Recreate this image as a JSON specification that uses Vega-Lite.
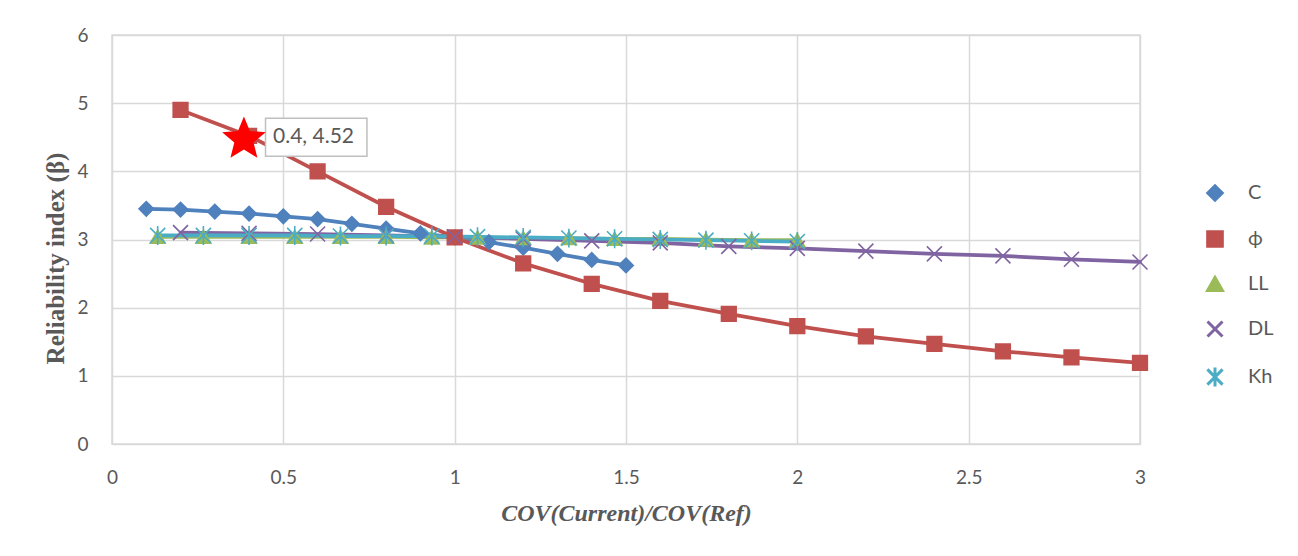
{
  "$schema": "https://vega.github.io/schema/vega-lite/v6.json",
  "autosize": {"type": "none"},
  "width": 1028,
  "height": 409,
  "padding": {"left": 112, "top": 35, "right": 158, "bottom": 112},
  "background": "white",
  "config": {
    "view": {"stroke": "#d9d9d9", "strokeWidth": 1.5},
    "axis": {"gridColor": "#d9d9d9", "gridWidth": 1.5, "domain": false, "ticks": false, "labelColor": "#595959", "labelFont": "Lato", "labelFontSize": 19, "labelFlush": false},
    "legend": {"labelFont": "Lato", "labelFontSize": 20, "labelColor": "#595959"}
  },
  "datasets": {
    "series": [
      {"s": "C", "x": 0.1, "y": 3.45}, {"s": "C", "x": 0.2, "y": 3.44}, {"s": "C", "x": 0.3, "y": 3.41}, {"s": "C", "x": 0.4, "y": 3.38}, {"s": "C", "x": 0.5, "y": 3.34},
      {"s": "C", "x": 0.6, "y": 3.30}, {"s": "C", "x": 0.7, "y": 3.23}, {"s": "C", "x": 0.8, "y": 3.16}, {"s": "C", "x": 0.9, "y": 3.09}, {"s": "C", "x": 1.0, "y": 3.03},
      {"s": "C", "x": 1.1, "y": 2.96}, {"s": "C", "x": 1.2, "y": 2.88}, {"s": "C", "x": 1.3, "y": 2.79}, {"s": "C", "x": 1.4, "y": 2.70}, {"s": "C", "x": 1.5, "y": 2.62},
      {"s": "ϕ", "x": 0.2, "y": 4.90}, {"s": "ϕ", "x": 0.4, "y": 4.52}, {"s": "ϕ", "x": 0.6, "y": 4.00}, {"s": "ϕ", "x": 0.8, "y": 3.48}, {"s": "ϕ", "x": 1.0, "y": 3.03},
      {"s": "ϕ", "x": 1.2, "y": 2.65}, {"s": "ϕ", "x": 1.4, "y": 2.35}, {"s": "ϕ", "x": 1.6, "y": 2.10}, {"s": "ϕ", "x": 1.8, "y": 1.91}, {"s": "ϕ", "x": 2.0, "y": 1.73},
      {"s": "ϕ", "x": 2.2, "y": 1.58}, {"s": "ϕ", "x": 2.4, "y": 1.47}, {"s": "ϕ", "x": 2.6, "y": 1.36}, {"s": "ϕ", "x": 2.8, "y": 1.27}, {"s": "ϕ", "x": 3.0, "y": 1.19},
      {"s": "LL", "x": 0.1333, "y": 3.04}, {"s": "LL", "x": 0.2667, "y": 3.04}, {"s": "LL", "x": 0.4, "y": 3.04}, {"s": "LL", "x": 0.5333, "y": 3.04}, {"s": "LL", "x": 0.6667, "y": 3.04},
      {"s": "LL", "x": 0.8, "y": 3.04}, {"s": "LL", "x": 0.9333, "y": 3.03}, {"s": "LL", "x": 1.0667, "y": 3.03}, {"s": "LL", "x": 1.2, "y": 3.02}, {"s": "LL", "x": 1.3333, "y": 3.02},
      {"s": "LL", "x": 1.4667, "y": 3.01}, {"s": "LL", "x": 1.6, "y": 3.01}, {"s": "LL", "x": 1.7333, "y": 3.00}, {"s": "LL", "x": 1.8667, "y": 2.99}, {"s": "LL", "x": 2.0, "y": 2.99},
      {"s": "DL", "x": 0.2, "y": 3.10}, {"s": "DL", "x": 0.4, "y": 3.09}, {"s": "DL", "x": 0.6, "y": 3.08}, {"s": "DL", "x": 0.8, "y": 3.06}, {"s": "DL", "x": 1.0, "y": 3.04},
      {"s": "DL", "x": 1.2, "y": 3.01}, {"s": "DL", "x": 1.4, "y": 2.98}, {"s": "DL", "x": 1.6, "y": 2.95}, {"s": "DL", "x": 1.8, "y": 2.90}, {"s": "DL", "x": 2.0, "y": 2.87},
      {"s": "DL", "x": 2.2, "y": 2.83}, {"s": "DL", "x": 2.4, "y": 2.79}, {"s": "DL", "x": 2.6, "y": 2.76}, {"s": "DL", "x": 2.8, "y": 2.71}, {"s": "DL", "x": 3.0, "y": 2.67},
      {"s": "Kh", "x": 0.1333, "y": 3.06}, {"s": "Kh", "x": 0.2667, "y": 3.06}, {"s": "Kh", "x": 0.4, "y": 3.06}, {"s": "Kh", "x": 0.5333, "y": 3.06}, {"s": "Kh", "x": 0.6667, "y": 3.05},
      {"s": "Kh", "x": 0.8, "y": 3.05}, {"s": "Kh", "x": 0.9333, "y": 3.05}, {"s": "Kh", "x": 1.0667, "y": 3.04}, {"s": "Kh", "x": 1.2, "y": 3.03}, {"s": "Kh", "x": 1.3333, "y": 3.02},
      {"s": "Kh", "x": 1.4667, "y": 3.01}, {"s": "Kh", "x": 1.6, "y": 3.00}, {"s": "Kh", "x": 1.7333, "y": 2.99}, {"s": "Kh", "x": 1.8667, "y": 2.98}, {"s": "Kh", "x": 2.0, "y": 2.97}
    ],
    "note": [
      {"x": 0.385, "y": 4.47, "x1": 0.448, "x2": 0.744, "y1": 4.78, "y2": 4.22, "tx": 0.47, "ty": 4.5, "label": "0.4, 4.52"}
    ]
  },
  "layer": [
    {
      "data": {"name": "series"},
      "mark": {"type": "line", "strokeWidth": 3.75, "strokeCap": "round", "strokeJoin": "round"},
      "encoding": {
        "x": {"field": "x", "type": "quantitative", "scale": {"domain": [0, 3], "nice": false}, "axis": {"values": [0, 0.5, 1, 1.5, 2, 2.5, 3], "format": "~g", "labelPadding": 24, "labelBaseline": "top", "title": "COV(Current)/COV(Ref)", "titleFont": "Liberation Serif", "titleFontStyle": "italic", "titleFontWeight": "bold", "titleFontSize": 24, "titleColor": "#595959", "titleY": 69, "titleBaseline": "middle"}},
        "y": {"field": "y", "type": "quantitative", "scale": {"domain": [0, 6], "nice": false}, "axis": {"values": [0, 1, 2, 3, 4, 5, 6], "format": "d", "labelPadding": 24, "title": "Reliability index (β)", "titleFont": "Liberation Serif", "titleFontWeight": "bold", "titleFontSize": 25, "titleColor": "#595959", "titleX": -57, "titleY": 223, "titleAngle": -90, "titleAlign": "center", "titleBaseline": "middle"}},
        "color": {"field": "s", "type": "nominal", "scale": {"domain": ["C", "ϕ", "LL", "DL", "Kh"], "range": ["#4F81BD", "#C0504D", "#9BBB59", "#8064A2", "#4BACC6"]}, "legend": {
          "title": null, "orient": "none", "legendX": 1093, "legendY": 148, "padding": 0,
          "symbolSize": 324, "labelOffset": 23, "rowPadding": 18,
          "encode": {"symbols": {"update": {
            "shape": {"signal": "datum.value === 'C' ? 'M-3,0H3M0,-0.8L0.8,0L0,0.8L-0.8,0Z' : datum.value === 'LL' ? 'M-3,0H3M0,-0.75L0.75,0.6H-0.75Z' : datum.value === 'DL' ? 'M-3,0H3M-0.6,-0.6L0.6,0.6M-0.6,0.6L0.6,-0.6' : datum.value === 'Kh' ? 'M-3,0H3M-0.6,-0.6L0.6,0.6M-0.6,0.6L0.6,-0.6M0,-0.75V0.75' : 'M-3,0H3M-0.6,-0.6H0.6V0.6H-0.6Z'"},
            "fill": {"signal": "scale('color', datum.value)"},
            "strokeWidth": {"value": 3},
            "opacity": {"value": 1}
          }}}
        }}
      }
    },
    {
      "data": {"name": "series"},
      "mark": {"type": "point", "strokeWidth": 1.6, "opacity": 1},
      "encoding": {
        "x": {"field": "x", "type": "quantitative"},
        "y": {"field": "y", "type": "quantitative"},
        "fill": {"field": "s", "type": "nominal", "scale": {"domain": ["C", "ϕ", "LL", "DL", "Kh"], "range": ["#4F81BD", "#C0504D", "#9BBB59", "#8064A2", "#4BACC6"]}, "legend": null},
        "stroke": {"field": "s", "type": "nominal", "scale": {"domain": ["C", "ϕ", "LL", "DL", "Kh"], "range": ["#4F81BD", "#C0504D", "#9BBB59", "#8064A2", "#4BACC6"]}, "legend": null},
        "shape": {"field": "s", "type": "nominal", "scale": {"domain": ["C", "ϕ", "LL", "DL", "Kh"], "range": ["diamond", "square", "triangle-up", "M-1,-1L1,1M-1,1L1,-1", "M-1,-1L1,1M-1,1L1,-1M0,-1.25V1.25"]}, "legend": null},
        "size": {"field": "s", "type": "nominal", "scale": {"domain": ["C", "ϕ", "LL", "DL", "Kh"], "range": [210, 230, 170, 42, 42]}, "legend": null}
      }
    },
    {
      "data": {"name": "note"},
      "mark": {"type": "rect", "fill": "white", "stroke": "#bfbfbf", "strokeWidth": 1.5},
      "encoding": {
        "x": {"field": "x1", "type": "quantitative"},
        "x2": {"field": "x2"},
        "y": {"field": "y1", "type": "quantitative"},
        "y2": {"field": "y2"}
      }
    },
    {
      "data": {"name": "note"},
      "mark": {"type": "text", "align": "left", "baseline": "middle", "font": "Lato", "fontSize": 21, "color": "#595959"},
      "encoding": {
        "x": {"field": "tx", "type": "quantitative"},
        "y": {"field": "ty", "type": "quantitative"},
        "text": {"field": "label"}
      }
    },
    {
      "data": {"name": "note"},
      "mark": {"type": "point", "shape": "M0,-1L0.26,-0.36L0.951,-0.309L0.42,0.137L0.588,0.809L0,0.44L-0.588,0.809L-0.42,0.137L-0.951,-0.309L-0.26,-0.36Z", "filled": true, "color": "#FF0000", "size": 2100, "opacity": 1},
      "encoding": {
        "x": {"field": "x", "type": "quantitative"},
        "y": {"field": "y", "type": "quantitative"}
      }
    }
  ]
}
